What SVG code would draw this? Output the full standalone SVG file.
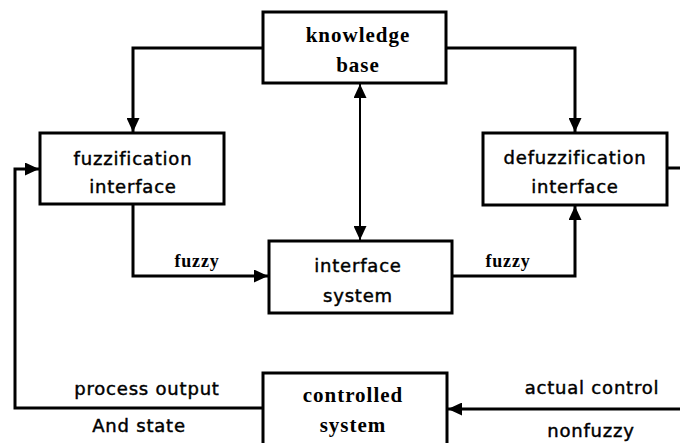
<svg xmlns="http://www.w3.org/2000/svg" width="680" height="443" viewBox="0 0 680 443">
  <style>
    .box { fill: #ffffff; stroke: #000000; stroke-width: 3; }
    .wire { fill: none; stroke: #000000; stroke-width: 3; }
    .thin { fill: none; stroke: #000000; stroke-width: 2; }
    .sans { font-family: "DejaVu Sans", "Liberation Sans", sans-serif; font-size: 18px; letter-spacing: 0.8px; fill: #000; stroke: #000; stroke-width: 0.45px; text-anchor: middle; }
    .serif { font-family: "Liberation Serif", "DejaVu Serif", serif; font-weight: bold; font-size: 21px; letter-spacing: 1px; fill: #000; text-anchor: middle; }
    .small { font-family: "Liberation Serif", "DejaVu Serif", serif; font-weight: bold; font-size: 18px; letter-spacing: 0.8px; fill: #000; text-anchor: middle; }
  </style>
  <defs>
    <marker id="head" viewBox="0 0 14 13" refX="14" refY="6.5" markerWidth="14" markerHeight="13" markerUnits="userSpaceOnUse" orient="auto-start-reverse">
      <path d="M0,0 L14,6.5 L0,13 Z" fill="#000"/>
    </marker>
  </defs>

  <rect width="680" height="443" fill="#ffffff"/>

  <g id="connectors">
    <!-- knowledge base to fuzzification -->
    <path class="wire" d="M263,48 H133 V132" marker-end="url(#head)"/>
    <!-- knowledge base to defuzzification -->
    <path class="wire" d="M446,48 H575 V132" marker-end="url(#head)"/>
    <!-- knowledge base <-> interface system -->
    <path class="thin" d="M360,84 V240" marker-start="url(#head)" marker-end="url(#head)"/>
    <!-- fuzzification to interface system -->
    <path class="wire" d="M133,204 V276 H268" marker-end="url(#head)"/>
    <!-- interface system to defuzzification -->
    <path class="wire" d="M452,276 H575 V206" marker-end="url(#head)"/>
    <!-- defuzzification to controlled system -->
    <path class="wire" d="M667,168 H690 V409 H448" marker-end="url(#head)"/>
    <!-- controlled system feedback to fuzzification -->
    <path class="wire" d="M263,408 H15 V169 H39" marker-end="url(#head)"/>
    <text class="small" x="197" y="267">fuzzy</text>
    <text class="small" x="508" y="267">fuzzy</text>
    <text class="sans" x="147" y="395">process output</text>
    <text class="sans" x="139" y="432">And state</text>
    <text class="sans" x="592" y="394">actual control</text>
    <text class="sans" x="591" y="437">nonfuzzy</text>
  </g>

  <g id="knowledge-base">
    <rect class="box" x="263" y="12" width="183" height="71"/>
    <text class="serif" x="358" y="42">knowledge</text>
    <text class="serif" x="358" y="72">base</text>
  </g>

  <g id="fuzzification-interface">
    <rect class="box" x="40" y="133" width="184" height="71"/>
    <text class="sans" x="133" y="165">fuzzification</text>
    <text class="sans" x="133" y="193">interface</text>
  </g>

  <g id="defuzzification-interface">
    <rect class="box" x="483" y="133" width="184" height="72"/>
    <text class="sans" x="575" y="164">defuzzification</text>
    <text class="sans" x="575" y="193">interface</text>
  </g>

  <g id="interface-system">
    <rect class="box" x="269" y="241" width="183" height="72"/>
    <text class="sans" x="358" y="272">interface</text>
    <text class="sans" x="358" y="302">system</text>
  </g>

  <g id="controlled-system">
    <rect class="box" x="263" y="373" width="184" height="80"/>
    <text class="serif" x="353" y="402">controlled</text>
    <text class="serif" x="353" y="432">system</text>
  </g>
</svg>
